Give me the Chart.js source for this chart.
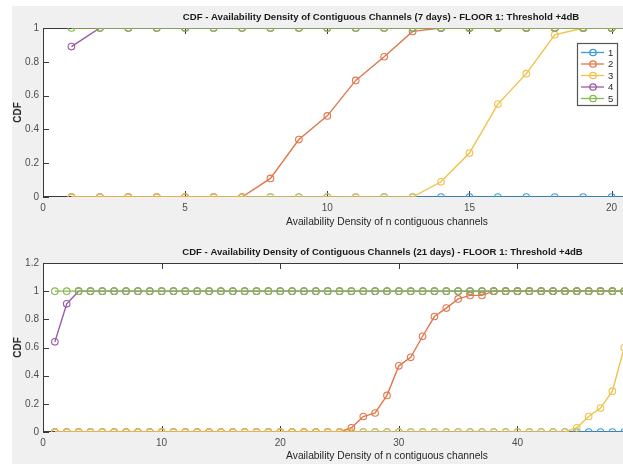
<!DOCTYPE html>
<html>
<head>
<meta charset="utf-8">
<script src="https://cdn.jsdelivr.net/npm/chart.js@4.4.1/dist/chart.umd.min.js"></script>
<style>
html, body { margin: 0; padding: 0; background: #fff; overflow: hidden; width: 623px; height: 464px; }
#fig { position: absolute; left: 12px; top: 6px; width: 760px; height: 470px; background: #f0f0f0; }
.box { position: absolute; left: 0; width: 760px; height: 232px; }
</style>
</head>
<body>
<div id="fig"></div>
<div class="box" style="top:0"><canvas id="c7" width="760" height="232"></canvas></div>
<div class="box" style="top:232px"><canvas id="c21" width="760" height="232"></canvas></div>
<script>
// ---- data: 7 days ----
const x7 = [1,2,3,4,5,6,7,8,9,10,11,12,13,14,15,16,17,18,19,20,21];
const s1_7 = [0,0,0,0,0,0,0,0,0,0,0,0,0,0,0,0,0,0,0,0,0];
const s2_7 = [0,0,0,0,0,0,0,0.11,0.34,0.48,0.69,0.83,0.98,1,1,1,1,1,1,1,1];
const s3_7 = [0,0,0,0,0,0,0,0,0,0,0,0,0,0.09,0.26,0.55,0.73,0.96,1,1,1];
const s4_7 = [0.89,1,1,1,1,1,1,1,1,1,1,1,1,1,1,1,1,1,1,1,1];
const s5_7 = [1,1,1,1,1,1,1,1,1,1,1,1,1,1,1,1,1,1,1,1,1];

// ---- data: 21 days ----
const x21 = [];
for (let i = 1; i <= 49; i++) x21.push(i);
const s1_21 = [0,0,0,0,0,0,0,0,0,0, 0,0,0,0,0,0,0,0,0,0, 0,0,0,0,0,0,0,0,0,0,
               0,0,0,0,0,0,0,0,0,0, 0,0,0,0,0,0,0,0,0];
const s2_21 = [0,0,0,0,0,0,0,0,0,0, 0,0,0,0,0,0,0,0,0,0, 0,0,0,0,0,0.03,0.11,0.135,0.26,0.47,
               0.53,0.68,0.82,0.88,0.945,0.97,0.97,1,1,1, 1,1,1,1,1,1,1,1,1];
const s3_21 = [0,0,0,0,0,0,0,0,0,0, 0,0,0,0,0,0,0,0,0,0, 0,0,0,0,0,0,0,0,0,0,
               0,0,0,0,0,0,0,0,0,0, 0,0,0,0,0.03,0.11,0.17,0.29,0.6];
const s4_21 = [0.64,0.91,1,1,1,1,1,1,1,1, 1,1,1,1,1,1,1,1,1,1, 1,1,1,1,1,1,1,1,1,1,
               1,1,1,1,1,1,1,1,1,1, 1,1,1,1,1,1,1,1,1];
const s5_21 = [1,1,1,1,1,1,1,1,1,1, 1,1,1,1,1,1,1,1,1,1, 1,1,1,1,1,1,1,1,1,1,
               1,1,1,1,1,1,1,1,1,1, 1,1,1,1,1,1,1,1,1];

const names = ['1','2','3','4','5'];
const colors = ['#3d9ad6','#e2764c','#f0c24a','#9a58ab','#85bb4b'];
const FAM = "'Liberation Sans', Arial, sans-serif";

Chart.defaults.font.family = FAM;
Chart.defaults.animation = false;

function makeSets(xs, series) {
  return series.map((ys, i) => ({
    label: names[i],
    data: ys.map((y, k) => ({x: xs[k], y: y})),
    borderColor: colors[i],
    backgroundColor: 'rgba(0,0,0,0)',
    pointBorderColor: colors[i],
    pointBackgroundColor: 'rgba(0,0,0,0)',
    borderWidth: 1.4,
    pointRadius: 3.3,
    pointBorderWidth: 1.1,
    order: 5 - i   // later series drawn on top, like matlab
  }));
}

// draw text scaled so it spans the given width, centred on cx
function fitText(ctx, text, weight, width, cx, cy) {
  ctx.font = weight + ' 10px ' + FAM;
  const w = ctx.measureText(text).width;
  const size = 10 * width / w;
  ctx.font = weight + ' ' + size.toFixed(2) + 'px ' + FAM;
  ctx.fillText(text, cx, cy);
}

// matlab-ish axes box, inward ticks, titles and legend
const matlabAxes = {
  id: 'matlabAxes',
  beforeDraw(chart) {
    const a = chart.chartArea, ctx = chart.ctx;
    ctx.save();
    ctx.fillStyle = '#fff';
    ctx.fillRect(a.left, a.top, a.right - a.left, a.bottom - a.top);
    ctx.restore();
  },
  beforeDatasetsDraw(chart) {
    const a = chart.chartArea, ctx = chart.ctx;
    const xs = chart.scales.x, ys = chart.scales.y;
    ctx.save();
    ctx.strokeStyle = '#3a3a3a';
    ctx.lineWidth = 1;
    ctx.beginPath();
    ctx.rect(a.left + 0.5, a.top + 0.5, a.right - a.left - 1, a.bottom - a.top - 1);
    xs.ticks.forEach(t => {
      const px = Math.round(xs.getPixelForValue(t.value)) + 0.5;
      ctx.moveTo(px, a.bottom); ctx.lineTo(px, a.bottom - 6);
      ctx.moveTo(px, a.top); ctx.lineTo(px, a.top + 6);
    });
    ys.ticks.forEach(t => {
      const py = Math.round(ys.getPixelForValue(t.value)) + 0.5;
      ctx.moveTo(a.left, py); ctx.lineTo(a.left + 6, py);
      ctx.moveTo(a.right, py); ctx.lineTo(a.right - 6, py);
    });
    ctx.stroke();
    ctx.restore();
  },
  afterDraw(chart, args, opts) {
    const a = chart.chartArea, ctx = chart.ctx;
    ctx.save();
    ctx.textAlign = 'center';
    ctx.textBaseline = 'middle';
    ctx.fillStyle = '#1a1a1a';
    fitText(ctx, opts.title, 'bold', opts.titleW, opts.titleX, opts.titleY);
    ctx.fillStyle = '#262626';
    fitText(ctx, 'Availability Density of n contiguous channels', 'normal', 202, 387, opts.xlabelY);
    ctx.save();
    ctx.translate(18, (a.top + a.bottom) / 2);
    ctx.rotate(-Math.PI / 2);
    ctx.font = 'bold 10px ' + FAM;
    ctx.fillText('CDF', 0, 0);
    ctx.restore();

    if (opts.legend) {
      const L = opts.legend;
      ctx.fillStyle = '#fff';
      ctx.fillRect(L.x, L.y, L.w, L.h);
      ctx.strokeStyle = '#555';
      ctx.lineWidth = 1.2;
      ctx.strokeRect(L.x + 0.5, L.y + 0.5, L.w, L.h);
      ctx.font = '9.5px ' + FAM;
      ctx.textAlign = 'left';
      chart.data.datasets.forEach((ds, i) => {
        const y = L.y + 9.5 + i * 11.5;
        ctx.strokeStyle = ds.borderColor;
        ctx.lineWidth = 1.3;
        ctx.beginPath();
        ctx.moveTo(L.x + 4, y); ctx.lineTo(L.x + 27, y);
        ctx.stroke();
        ctx.beginPath();
        ctx.arc(L.x + 16, y, 3.2, 0, Math.PI * 2);
        ctx.stroke();
        ctx.fillStyle = '#262626';
        ctx.fillText(ds.label, L.x + 31, y + 0.5);
      });
    }
    ctx.restore();
  }
};

const fmt = v => String(Math.round(v * 10) / 10);

function makeChart(id, xs, series, xmax, xstep, ymax, top, bottomH, title, tw, tx, legend) {
  return new Chart(document.getElementById(id), {
    type: 'line',
    data: { datasets: makeSets(xs, series) },
    options: {
      responsive: false,
      layout: { padding: { left: 0, top: top, right: 29, bottom: 0 } },
      plugins: {
        legend: { display: false },
        title: { display: false },
        tooltip: { enabled: false },
        matlabAxes: { title: title, titleW: tw, titleX: tx, titleY: top - 11,
                      xlabelY: top + (ymax === 1 ? 169 : 168) + 25, legend: legend }
      },
      scales: {
        x: {
          type: 'linear', min: 0, max: xmax,
          grid: { display: false, drawTicks: false },
          border: { display: false },
          ticks: { stepSize: xstep, padding: 5, color: '#4d4d4d', font: { size: 10 }, callback: fmt },
          afterFit: s => { s.height = bottomH; }
        },
        y: {
          min: 0, max: ymax,
          grid: { display: false, drawTicks: false },
          border: { display: false },
          ticks: { stepSize: 0.2, padding: 4, color: '#4d4d4d', font: { size: 10 }, callback: fmt },
          afterFit: s => { s.width = 43; }
        }
      }
    },
    plugins: [matlabAxes]
  });
}

makeChart('c7', x7, [s1_7, s2_7, s3_7, s4_7, s5_7], 24.2, 5, 1, 28, 35,
  'CDF - Availability Density of Contiguous Channels (7 days) - FLOOR 1: Threshold +4dB', 397, 381,
  { x: 577, y: 43, w: 40, h: 62 });
makeChart('c21', x21, [s1_21, s2_21, s3_21, s4_21, s5_21], 58, 10, 1.2, 31, 32,
  'CDF - Availability Density of Contiguous Channels (21 days) - FLOOR 1: Threshold +4dB', 401, 382.5,
  null);
</script>
</body>
</html>
